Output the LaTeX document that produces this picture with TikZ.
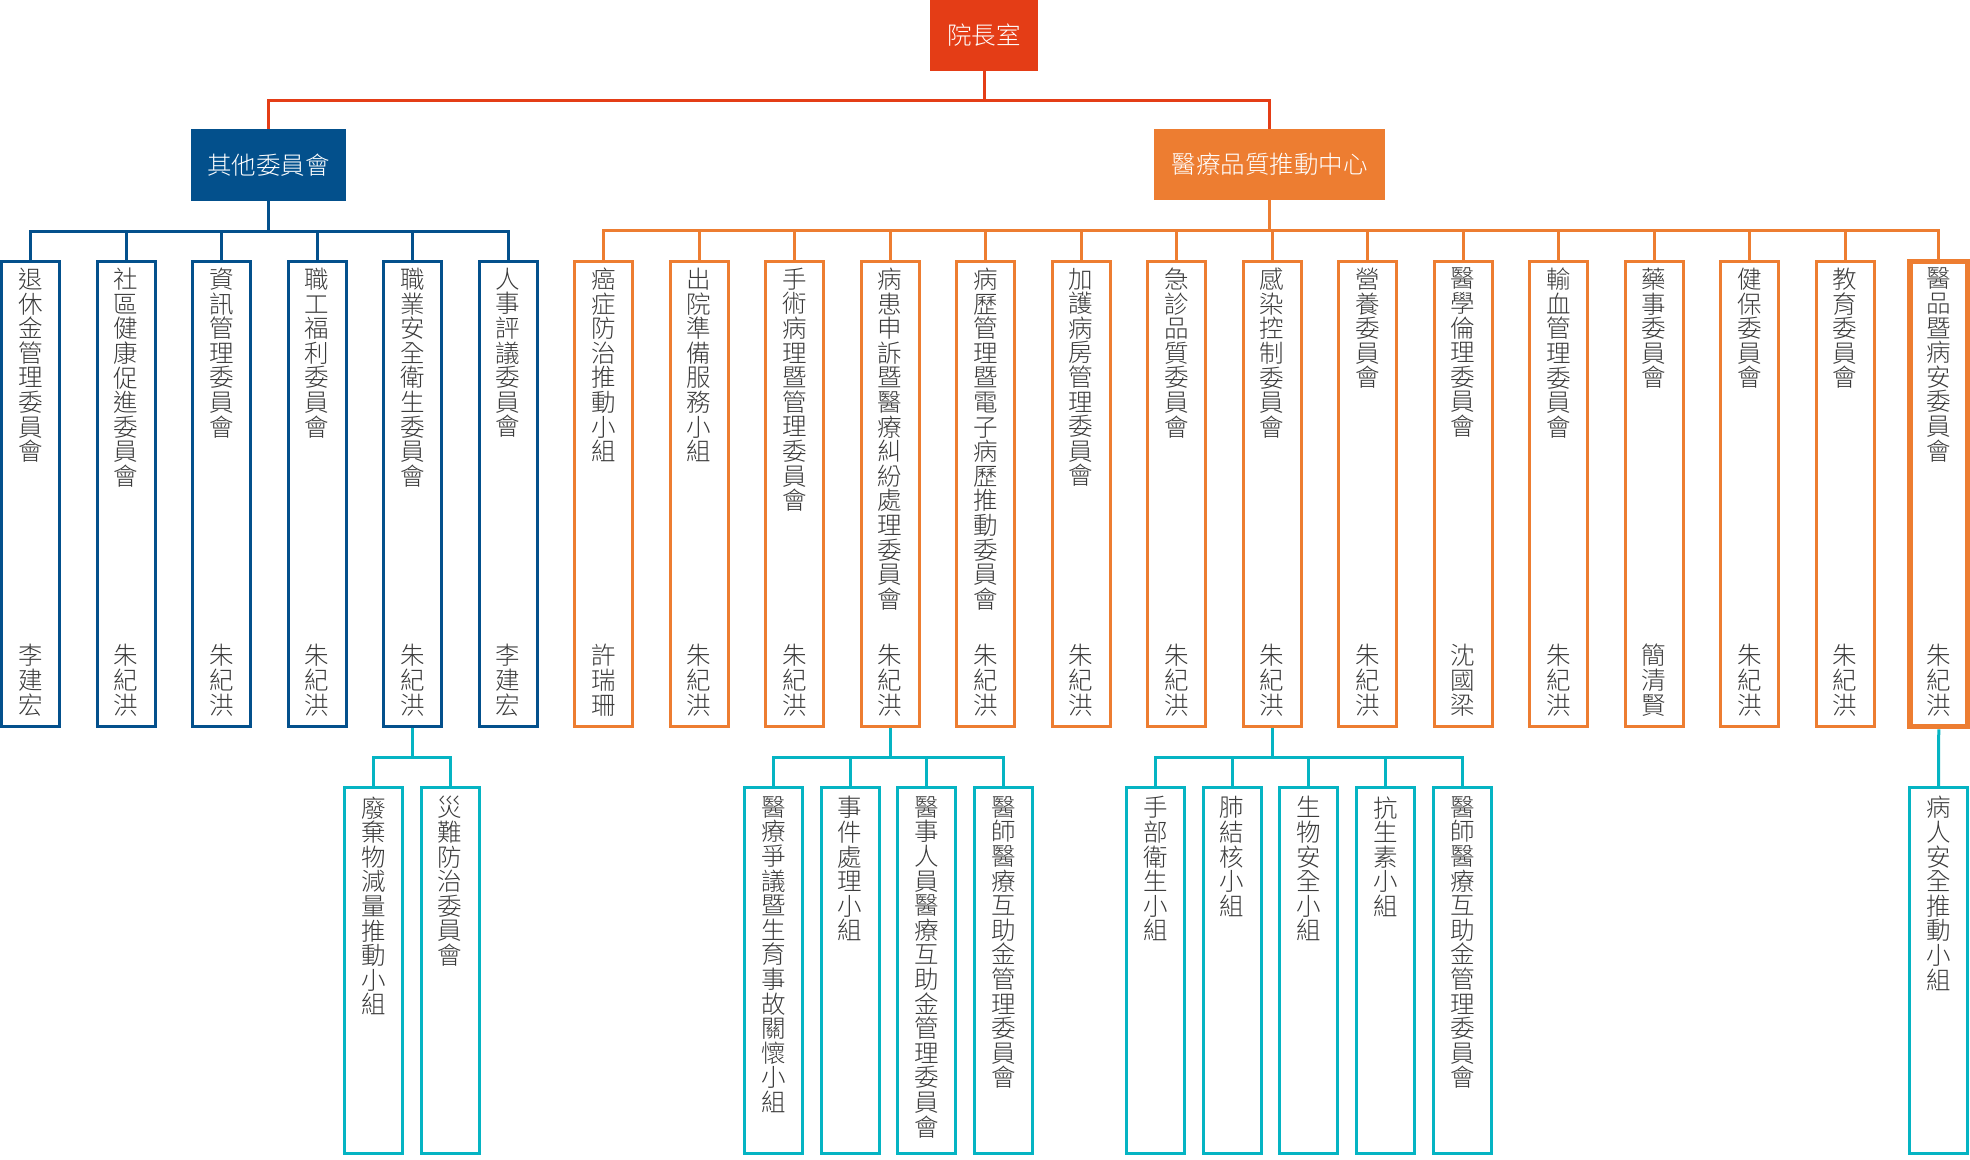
\documentclass[tikz,border=0pt]{standalone}
\usepackage{fontspec}
\setmainfont{Noto Sans CJK TC}[UprightFont={* Light}]
\usetikzlibrary{positioning}

\definecolor{chiefred}{HTML}{E43D16}
\definecolor{deepblue}{HTML}{03508C}
\definecolor{qorange}{HTML}{ED7D31}
\definecolor{subteal}{HTML}{05B4C3}
\definecolor{inkgray}{HTML}{3A3A3A}

% one character per line
\newcommand\charcol[1]{\charcolA#1\charcolend}
\def\charcolA#1{\ifx#1\charcolend\else\hbox to 25pt{\hss#1\hss}\expandafter\charcolA\fi}
\let\charcolend\relax
\newcommand\unitcell[2]{\vbox to 465pt{\baselineskip=24.6pt\lineskiplimit=-\maxdimen
  \vskip6.5pt\charcol{#1}\vfill\charcol{#2}\vskip10.5pt}}
\newcommand\subcell[1]{\vbox to 366pt{\baselineskip=24.6pt\lineskiplimit=-\maxdimen
  \vskip9pt\charcol{#1}\vfill}}

\begin{document}
\begin{tikzpicture}[x=1pt, y=-1pt, node distance=34.5pt,
    font=\fontsize{24.5}{24.6}\selectfont,
    head/.style={inner sep=0pt, text=white},
    unit/.style={draw, line width=3pt, minimum width=58pt, minimum height=465pt, inner sep=0pt, text=inkgray},
    sub/.style={draw=subteal, line width=3pt, minimum width=58pt, minimum height=366pt, inner sep=0pt, text=inkgray},
    link/.style={line width=3pt}]
    \useasboundingbox (0,0) rectangle (1970,1159);

    \node[head, fill=chiefred, minimum width=108pt, minimum height=70.7pt] (chief) at (984,35.35) {院長室};
    \node[head, fill=deepblue, minimum width=155pt, minimum height=72pt] (others) at (268.5,165) {其他委員會};
    \node[head, fill=qorange, minimum width=231pt, minimum height=71pt] (quality) at (1269.5,164.5) {醫療品質推動中心};

    % other committees
    \node[unit, draw=deepblue] (b1) at (30.5,494) {\unitcell{退休金管理委員會}{李建宏}};
    \node[unit, draw=deepblue] (b2) [right=of b1] {\unitcell{社區健康促進委員會}{朱紀洪}};
    \node[unit, draw=deepblue] (b3) [right=of b2] {\unitcell{資訊管理委員會}{朱紀洪}};
    \node[unit, draw=deepblue] (b4) [right=of b3] {\unitcell{職工福利委員會}{朱紀洪}};
    \node[unit, draw=deepblue] (b5) [right=of b4] {\unitcell{職業安全衛生委員會}{朱紀洪}};
    \node[unit, draw=deepblue] (b6) [right=of b5] {\unitcell{人事評議委員會}{李建宏}};

    % quality centre
    \node[unit, draw=qorange] (o1) [right=of b6] {\unitcell{癌症防治推動小組}{許瑞珊}};
    \node[unit, draw=qorange] (o2) [right=of o1] {\unitcell{出院準備服務小組}{朱紀洪}};
    \node[unit, draw=qorange] (o3) [right=of o2] {\unitcell{手術病理暨管理委員會}{朱紀洪}};
    \node[unit, draw=qorange] (o4) [right=of o3] {\unitcell{病患申訴暨醫療糾紛處理委員會}{朱紀洪}};
    \node[unit, draw=qorange] (o5) [right=of o4] {\unitcell{病歷管理暨電子病歷推動委員會}{朱紀洪}};
    \node[unit, draw=qorange] (o6) [right=of o5] {\unitcell{加護病房管理委員會}{朱紀洪}};
    \node[unit, draw=qorange] (o7) [right=of o6] {\unitcell{急診品質委員會}{朱紀洪}};
    \node[unit, draw=qorange] (o8) [right=of o7] {\unitcell{感染控制委員會}{朱紀洪}};
    \node[unit, draw=qorange] (o9) [right=of o8] {\unitcell{營養委員會}{朱紀洪}};
    \node[unit, draw=qorange] (o10) [right=of o9] {\unitcell{醫學倫理委員會}{沈國梁}};
    \node[unit, draw=qorange] (o11) [right=of o10] {\unitcell{輸血管理委員會}{朱紀洪}};
    \node[unit, draw=qorange] (o12) [right=of o11] {\unitcell{藥事委員會}{簡清賢}};
    \node[unit, draw=qorange] (o13) [right=of o12] {\unitcell{健保委員會}{朱紀洪}};
    \node[unit, draw=qorange] (o14) [right=of o13] {\unitcell{教育委員會}{朱紀洪}};
    \node[unit, draw=qorange, line width=5.5pt] (o15) [right=31.5pt of o14] {\unitcell{醫品暨病安委員會}{朱紀洪}};

    % sub groups
    \node[sub] (s1) at (373.5,970.5) {\subcell{廢棄物減量推動小組}};
    \node[sub] (s2) [right=15.7pt of s1] {\subcell{災難防治委員會}};
    \node[sub] (s3) at (773.4,970.5) {\subcell{醫療爭議暨生育事故關懷小組}};
    \node[sub] (s4) [right=15.7pt of s3] {\subcell{事件處理小組}};
    \node[sub] (s5) [right=15.7pt of s4] {\subcell{醫事人員醫療互助金管理委員會}};
    \node[sub] (s6) [right=15.7pt of s5] {\subcell{醫師醫療互助金管理委員會}};
    \node[sub] (s7) at (1155.5,970.5) {\subcell{手部衛生小組}};
    \node[sub] (s8) [right=15.7pt of s7] {\subcell{肺結核小組}};
    \node[sub] (s9) [right=15.7pt of s8] {\subcell{生物安全小組}};
    \node[sub] (s10) [right=15.7pt of s9] {\subcell{抗生素小組}};
    \node[sub] (s11) [right=15.7pt of s10] {\subcell{醫師醫療互助金管理委員會}};
    \node[sub] (s12) at (1938.5,970.5) {\subcell{病人安全推動小組}};

    \draw[link, chiefred] (chief.south) -- ++(0,30) -| (others.north);
    \draw[link, chiefred] (chief.south) -- ++(0,30) -| (quality.north);
    \foreach \n in {1,...,6}
        \draw[link, deepblue] (others.south) -- ++(0,30) -| (b\n.north);
    \foreach \n in {1,...,15}
        \draw[link, qorange] (quality.south) -- ++(0,30) -| (o\n.north);
    \foreach \n in {1,2}
        \draw[link, subteal] (b5.south) -- ++(0,29) -| (s\n.north);
    \foreach \n in {3,...,6}
        \draw[link, subteal] (o4.south) -- ++(0,29) -| (s\n.north);
    \foreach \n in {7,...,11}
        \draw[link, subteal] (o8.south) -- ++(0,29) -| (s\n.north);
    \draw[link, subteal] (o15.south) -- (s12.north);
\end{tikzpicture}
\end{document}
